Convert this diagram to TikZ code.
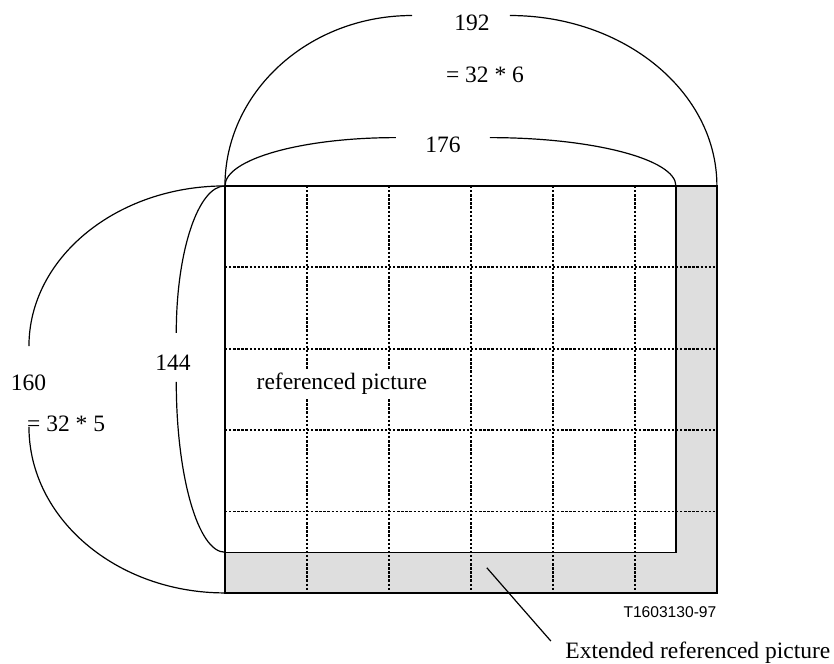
\documentclass[tikz,border=0pt]{standalone}
\usepackage{fontspec}
\setmainfont{Liberation Serif}
\newfontfamily\figsans{Liberation Sans}
\definecolor{extgray}{HTML}{DEDEDE}
\begin{document}
\begin{tikzpicture}[x=1.28125pt,y=1.272pt,line width=0.6pt,
  dotline/.style={line width=0.9pt,dash pattern=on 1.2pt off 0.85pt},
  every node/.style={font=\fontsize{11.75}{14}\selectfont}]
\useasboundingbox (-87.8,73.1) rectangle (237.7,-187.9);
\fill[extgray,even odd rule] (0,0) rectangle (192,-160) (0,0) rectangle (176,-144);
\draw[dotline] (32,0)--(32,-160);
\draw[dotline] (64,0)--(64,-160);
\draw[dotline] (96,0)--(96,-160);
\draw[dotline] (128,0)--(128,-160);
\draw[dotline] (160,0)--(160,-160);
\draw[dotline] (0,-32)--(192,-32);
\draw[dotline] (0,-64)--(192,-64);
\draw[dotline] (0,-96)--(192,-96);
\draw[dotline] (0,-128)--(192,-128);
\draw (0,0) rectangle (192,-160);
\draw (0,-144)--(176,-144)--(176,0);
\draw (0,0) arc[start angle=180,end angle=90,x radius=73,y radius=67];
\draw (111.2,67) arc[start angle=90,end angle=0,x radius=80.8,y radius=67];
\draw (0,0) arc[start angle=180,end angle=90,x radius=66.7,y radius=19];
\draw (103.4,19) arc[start angle=90,end angle=0,x radius=72.6,y radius=19];
\draw (0,0) arc[start angle=90,end angle=180,x radius=76.5,y radius=63];
\draw (-76.5,-94.7) arc[start angle=180,end angle=270,x radius=76.5,y radius=65.3];
\draw (0,0) arc[start angle=90,end angle=180,x radius=19,y radius=57.8];
\draw (-19,-77) arc[start angle=180,end angle=270,x radius=19,y radius=67];
\node (w192) at (96.4,64.1) {192};
\node (w32) at (101.5,43.6) {= 32 * 6};
\node (w176) at (85.1,16.1) {176};
\node (h160) at (-76.7,-77.4) {160};
\node (h32) at (-62,-93.6) {= 32 * 5};
\node (h144) at (-20.3,-69.6) {144};
\node[fill=white,inner xsep=1pt,inner ysep=2pt] (refpic) at (45.6,-77.6) {referenced picture};
\node[anchor=east,inner sep=0pt,font=\figsans\fontsize{7.8}{9}\selectfont] (tag) at (192,-167.5) {T1603130-97};
\coordinate (tip) at (102.2,-150.1);
\node[anchor=west,inner xsep=7pt,inner ysep=0pt] (ext) at (127.2,-183.4) {Extended referenced picture};
\draw (ext.north west)--(tip);
\end{tikzpicture}
\end{document}
